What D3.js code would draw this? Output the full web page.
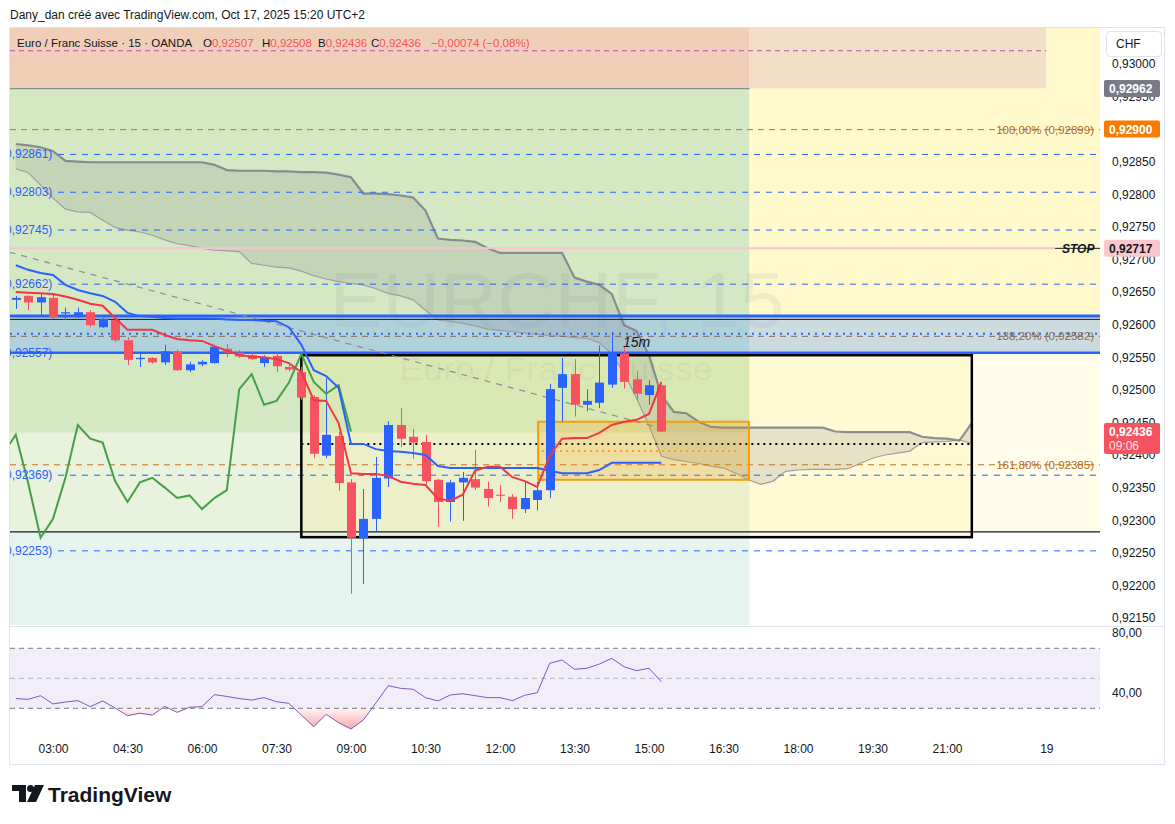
<!DOCTYPE html>
<html>
<head>
<meta charset="utf-8">
<script src="https://cdn.jsdelivr.net/npm/d3@7"></script>
<style>
  body { margin: 0; background: #fff; }
  svg { display: block; font-family: "Liberation Sans", Arial, sans-serif; }
</style>
</head>
<body>
<svg width="1175" height="824"></svg>
<script>
// 15m bars from 02:15 (index 0) to 15:15 (index 52)
var opens = [0.92638,0.92644,0.92634,0.92641,0.92617,0.92613,0.92619,0.92596,0.92607,0.92576,
  0.92547,0.92549,0.92542,0.92559,0.92530,0.92539,0.92541,0.92563,0.92557,0.92553,
  0.92541,0.92552,0.92535,0.92527,0.92489,0.92399,0.92429,0.92358,0.92272,0.92302,
  0.92364,0.92446,0.92428,0.92420,0.92362,0.92328,0.92358,0.92363,0.92348,0.92339,
  0.92336,0.92317,0.92331,0.92346,0.92503,0.92524,0.92477,0.92480,0.92508,0.92555,
  0.92516,0.92492,0.92507];
var highs = [0.92644,0.92645,0.92647,0.92647,0.92626,0.92626,0.92622,0.92610,0.92610,0.92581,
  0.92555,0.92550,0.92569,0.92562,0.92543,0.92546,0.92569,0.92570,0.92561,0.92557,
  0.92553,0.92557,0.92540,0.92535,0.92492,0.92518,0.92435,0.92363,0.92348,0.92397,
  0.92452,0.92472,0.92440,0.92431,0.92363,0.92362,0.92374,0.92408,0.92359,0.92354,
  0.92340,0.92359,0.92359,0.92509,0.92549,0.92547,0.92501,0.92568,0.92589,0.92567,
  0.92529,0.92515,0.92508];
var lows = [0.92624,0.92622,0.92615,0.92609,0.92607,0.92610,0.92596,0.92595,0.92573,0.92538,
  0.92535,0.92540,0.92538,0.92529,0.92527,0.92536,0.92540,0.92550,0.92549,0.92546,
  0.92535,0.92527,0.92528,0.92484,0.92395,0.92395,0.92345,0.92187,0.92202,0.92282,
  0.92351,0.92412,0.92394,0.92355,0.92290,0.92298,0.92299,0.92346,0.92321,0.92328,
  0.92302,0.92311,0.92315,0.92334,0.92451,0.92459,0.92467,0.92472,0.92503,0.92502,
  0.92483,0.92477,0.92436];
var closes = [0.92641,0.92634,0.92642,0.92611,0.92619,0.92619,0.92599,0.92609,0.92576,0.92546,
  0.92549,0.92542,0.92559,0.92530,0.92539,0.92543,0.92566,0.92557,0.92551,0.92547,
  0.92550,0.92536,0.92531,0.92488,0.92402,0.92431,0.92357,0.92273,0.92302,0.92365,
  0.92446,0.92425,0.92419,0.92360,0.92328,0.92358,0.92365,0.92350,0.92334,0.92338,
  0.92317,0.92334,0.92346,0.92501,0.92524,0.92477,0.92483,0.92511,0.92555,0.92512,
  0.92494,0.92507,0.92436];

// ichimoku lines
var tenkan = [0.92650,0.92649,0.92648,0.92647,0.92643,0.92638,0.92632,0.92629,0.92610,0.92592,
  0.92592,0.92592,0.92584,0.92578,0.92576,0.92575,0.92567,0.92560,0.92553,0.92551,
  0.92550,0.92547,0.92541,0.92527,0.92484,0.92483,0.92449,0.92372,0.92371,0.92371,
  0.92368,0.92359,0.92356,0.92354,0.92333,0.92330,0.92339,0.92376,0.92382,0.92382,
  0.92366,0.92360,0.92351,0.92399,0.92425,0.92426,0.92426,0.92434,0.92446,0.92451,
  0.92454,0.92463,0.92512];
var kijun = [0.92691,0.92684,0.92679,0.92676,0.92661,0.92653,0.92648,0.92644,0.92635,0.92618,
  0.92613,0.92612,0.92610,0.92609,0.92609,0.92609,0.92609,0.92608,0.92607,0.92607,
  0.92606,0.92605,0.92596,0.92569,0.92530,0.92521,0.92503,0.92417,0.92417,0.92409,
  0.92406,0.92405,0.92403,0.92400,0.92383,0.92380,0.92380,0.92380,0.92380,0.92380,
  0.92380,0.92380,0.92380,0.92376,0.92372,0.92372,0.92372,0.92377,0.92388,0.92388,
  0.92388,0.92388,0.92388];
// cloud, index 0..77 (runs 25 bars past the last candle)
var spanA = [0.92839,0.92833,0.92814,0.92794,0.92777,0.92773,0.92772,0.92760,0.92749,0.92745,
  0.92742,0.92737,0.92730,0.92724,0.92721,0.92717,0.92714,0.92713,0.92712,0.92694,
  0.92691,0.92688,0.92687,0.92682,0.92675,0.92670,0.92666,0.92663,0.92661,0.92655,
  0.92648,0.92644,0.92638,0.92622,0.92607,0.92605,0.92602,0.92598,0.92593,0.92591,
  0.92589,0.92587,0.92585,0.92583,0.92582,0.92580,0.92579,0.92572,0.92555,0.92525,
  0.92487,0.92445,0.92398,0.92393,0.92390,0.92387,0.92383,0.92380,0.92372,0.92362,
  0.92355,0.92360,0.92375,0.92377,0.92378,0.92378,0.92378,0.92379,0.92387,0.92395,
  0.92400,0.92403,0.92406,0.92419,0.92420,0.92421,0.92423,0.92418];
var spanB = [0.92877,0.92875,0.92872,0.92866,0.92851,0.92850,0.92849,0.92849,0.92849,0.92849,
  0.92849,0.92849,0.92849,0.92849,0.92849,0.92849,0.92845,0.92837,0.92836,0.92836,
  0.92836,0.92835,0.92835,0.92834,0.92834,0.92833,0.92830,0.92826,0.92801,0.92801,
  0.92800,0.92798,0.92795,0.92775,0.92732,0.92730,0.92729,0.92727,0.92717,0.92710,
  0.92710,0.92710,0.92710,0.92710,0.92710,0.92672,0.92666,0.92661,0.92647,0.92599,
  0.92590,0.92553,0.92492,0.92466,0.92464,0.92451,0.92443,0.92442,0.92442,0.92442,
  0.92442,0.92442,0.92442,0.92442,0.92442,0.92442,0.92436,0.92435,0.92435,0.92435,
  0.92435,0.92435,0.92435,0.92428,0.92426,0.92425,0.92422,0.92449];
var chikouShift = 25;

var rsi = [36.5,36.0,38.4,32.9,34.2,35.1,31.1,34.9,30.2,25.1,
  26.7,25.5,31.3,27.3,30.7,31.1,39.1,37.9,36.5,35.5,
  37.1,34.4,33.3,25.5,17.7,26.0,20.4,16.2,22.2,33.5,
  45.1,43.3,42.7,37.1,34.9,38.9,39.7,38.4,37.1,37.1,
  35.1,38.7,40.4,60.0,62.2,56.0,56.7,59.5,63.3,57.7,
  55.1,56.7,47.7];

var tickIdx = [3,9,15,21,27,33,39,45,51,57,63,69,75,83];
var tickLabels = ['03:00','04:30','06:00','07:30','09:00','10:30','12:00','13:30','15:00','16:30','18:00','19:30','21:00','19'];
// 0,92900 sits fully under the orange price label, so it is left out
var priceTicks = [0.93,0.9295,0.9285,0.928,0.9275,0.927,0.9265,0.926,0.9255,0.925,0.9245,0.924,0.9235,0.923,0.9225,0.922,0.9215];
var blueLevels = [0.92861,0.92803,0.92745,0.92662,0.92557,0.92369,0.92253];
var fibLevels = [0.92899,0.92582,0.92385];
var fibTexts = ['100,00% (0,92899)','138,20% (0,92582)','161,80% (0,92385)'];
var stopLevel = 0.92717;

var svg = d3.select('svg'),
    pane = {left: 10, right: 1100, top: 28, bottom: 625},
    x = d3.scaleLinear().domain([3, 51]).range([53, 649]),
    y = d3.scaleLinear().domain([0.9215, 0.93]).range([618, 63.8]),
    yr = d3.scaleLinear().domain([30, 70]).range([708.3, 648.3]),
    fmt = function(v) { return v.toFixed(5).replace('.', ','); };

var defs = svg.append('defs');
defs.append('clipPath').attr('id', 'clipMain').append('rect')
    .attr('x', pane.left).attr('y', pane.top)
    .attr('width', pane.right - pane.left).attr('height', pane.bottom - pane.top);
defs.append('clipPath').attr('id', 'clipRsi').append('rect')
    .attr('x', pane.left).attr('y', yr(30))
    .attr('width', pane.right - pane.left).attr('height', 40);
var grad = defs.append('linearGradient').attr('id', 'osGrad')
    .attr('gradientUnits', 'userSpaceOnUse')
    .attr('x1', 0).attr('x2', 0).attr('y1', yr(30)).attr('y2', yr(0));
grad.append('stop').attr('offset', 0).attr('stop-color', '#f23645').attr('stop-opacity', 0.05);
grad.append('stop').attr('offset', 1).attr('stop-color', '#f23645').attr('stop-opacity', 0.9);

// title + frame
svg.append('text').attr('x', 10).attr('y', 19).attr('font-size', 12).attr('fill', '#131722')
    .text('Dany_dan créé avec TradingView.com, Oct 17, 2025 15:20 UTC+2');
svg.append('rect').attr('x', 9.5).attr('y', 27.5).attr('width', 1155).attr('height', 737)
    .attr('fill', 'none').attr('stroke', '#e0e3eb');

var g = svg.append('g').attr('clip-path', 'url(#clipMain)');

// position tool zones
var split = 59.1, topEnd = 83, posTop = 0.92962, posMid = 0.92434, posLow = 0.92282;
function zone(x0, x1, p0, p1, color) {
  var y0 = p0 === null ? pane.top : y(p0),
      y1 = p1 === null ? pane.bottom : y(p1);
  g.append('rect').attr('x', x0).attr('y', y0)
      .attr('width', x1 - x0).attr('height', y1 - y0)
      .attr('fill', color);
}
zone(pane.left, x(split), null, posTop, '#f0cfb8');
zone(x(split), x(topEnd), null, posTop, '#f2dfc5');
zone(x(topEnd), pane.right, null, posTop, '#fff9cc');
zone(pane.left, x(split), posTop, posMid, '#d4e8c3');
zone(pane.left, x(split), posMid, posLow, '#e9f2dd');
zone(pane.left, x(split), posLow, null, '#e6f4ef');
zone(x(split), pane.right, posTop, 0.92557, '#fff9cc');
zone(x(split), pane.right, 0.92557, posLow, '#fffce9');
zone(x(split), pane.right, posLow, null, '#ffffff');

// watermark
g.append('text').attr('x', 557).attr('y', 327).attr('text-anchor', 'middle')
    .attr('font-size', 78).attr('fill', '#787b86').attr('fill-opacity', 0.1)
    .attr('textLength', 455).attr('lengthAdjust', 'spacingAndGlyphs').text('EURCHF, 15');
g.append('text').attr('x', 556).attr('y', 380).attr('text-anchor', 'middle')
    .attr('font-size', 32).attr('fill', '#787b86').attr('fill-opacity', 0.1)
    .attr('textLength', 313).attr('lengthAdjust', 'spacingAndGlyphs').text('Euro / Franc Suisse');

// blue band
g.append('rect').attr('x', pane.left).attr('y', y(0.92613))
    .attr('width', pane.right - pane.left).attr('height', y(0.92557) - y(0.92613))
    .attr('fill', 'rgb(120,170,255)').attr('fill-opacity', 0.38);

// black box fill
g.append('rect').attr('x', x(23)).attr('y', y(0.92553))
    .attr('width', x(77) - x(23)).attr('height', y(0.92274) - y(0.92553))
    .attr('fill', 'rgb(255,228,80)').attr('fill-opacity', 0.13);

// cloud
var cIdx = d3.range(spanA.length);
g.append('path').datum(cIdx)
    .attr('d', d3.area().x(function(i) { return x(i); })
      .y0(function(i) { return y(spanA[i]); }).y1(function(i) { return y(spanB[i]); }))
    .attr('fill', '#787b86').attr('fill-opacity', 0.18);
g.append('path').datum(cIdx)
    .attr('d', d3.line().x(function(i) { return x(i); }).y(function(i) { return y(spanA[i]); }))
    .attr('fill', 'none').attr('stroke', '#9e9ea4').attr('stroke-width', 1.2);
g.append('path').datum(cIdx)
    .attr('d', d3.line().x(function(i) { return x(i); }).y(function(i) { return y(spanB[i]); }))
    .attr('fill', 'none').attr('stroke', '#7b7e86').attr('stroke-width', 2.2).attr('stroke-opacity', 0.85);

function hline(p, x0, x1, color, w, dash) {
  return g.append('line').attr('x1', x0).attr('x2', x1).attr('y1', y(p)).attr('y2', y(p))
      .attr('stroke', color).attr('stroke-width', w).attr('stroke-dasharray', dash || null);
}

// drawings
hline(0.93020, pane.left, x(topEnd), '#b44cb0', 1, '5,4');
hline(posTop, pane.left, x(split), '#8a8d94', 1.2);
hline(stopLevel, pane.left, 1055, '#f8c5ce', 2);
hline(stopLevel, 1055, pane.right, '#131722', 1);
blueLevels.forEach(function(p) { hline(p, 58, pane.right, '#2962ff', 1, '6,6'); });
hline(0.92613, pane.left, pane.right, '#2962ff', 3);
hline(0.92557, pane.left, pane.right, '#2962ff', 2.5);
hline(0.92608, pane.left, pane.right, '#131722', 1);
hline(0.92586, pane.left, pane.right, '#2962ff', 2, '2,5');
hline(posLow, pane.left, pane.right, '#131722', 1.2);
fibLevels.forEach(function(p, k) {
  hline(p, pane.left, pane.right, k === 1 ? '#7d6b60' : '#c27226', 1, '6,5');
});

// black box + dotted close line
g.append('rect').attr('x', x(23)).attr('y', y(0.92553))
    .attr('width', x(77) - x(23)).attr('height', y(0.92274) - y(0.92553))
    .attr('fill', 'none').attr('stroke', '#000').attr('stroke-width', 2.5);
hline(0.92417, x(23), x(77), '#000', 2, '2,4');

// orange box
g.append('rect').attr('x', x(42.07)).attr('y', y(0.92451))
    .attr('width', x(59.05) - x(42.07)).attr('height', y(0.92362) - y(0.92451))
    .attr('fill', 'rgb(255,152,0)').attr('fill-opacity', 0.2)
    .attr('stroke', '#f59d0d').attr('stroke-width', 2);
hline(0.92406, x(42.07) + 4, x(58), '#f7a21b', 2, '2,4');

// dashed trend line
g.append('line').attr('x1', x(-0.5)).attr('y1', y(0.92711)).attr('x2', x(52)).attr('y2', y(0.92441))
    .attr('stroke', '#8a8d94').attr('stroke-width', 1.2).attr('stroke-dasharray', '6,6');

// candles
var bars = d3.range(closes.length);
var col = function(i) { return closes[i] >= opens[i] ? '#2962ff' : '#f7525f'; };
g.selectAll('.wick').data(bars).enter().append('line')
    .attr('class', 'wick')
    .attr('x1', function(i) { return Math.round(x(i)) + 0.5; })
    .attr('x2', function(i) { return Math.round(x(i)) + 0.5; })
    .attr('y1', function(i) { return y(highs[i]); })
    .attr('y2', function(i) { return y(lows[i]); })
    .attr('stroke', col).attr('stroke-width', 1);
g.selectAll('.body').data(bars).enter().append('rect')
    .attr('class', 'body')
    .attr('x', function(i) { return Math.round(x(i)) - 4; })
    .attr('width', 9)
    .attr('y', function(i) { return y(Math.max(opens[i], closes[i])); })
    .attr('height', function(i) { return Math.max(1, Math.abs(y(opens[i]) - y(closes[i]))); })
    .attr('fill', col);

// lagging span (closes displaced back)
var chIdx = d3.range(-1, closes.length - chikouShift);
g.append('path').datum(chIdx)
    .attr('d', d3.line().x(function(i) { return x(i); }).y(function(i) { return y(closes[i + chikouShift]); }))
    .attr('fill', 'none').attr('stroke', '#43a047').attr('stroke-width', 2);
g.append('path').datum(bars)
    .attr('d', d3.line().x(function(i) { return x(i); }).y(function(i) { return y(kijun[i]); }))
    .attr('fill', 'none').attr('stroke', '#2962ff').attr('stroke-width', 2);
g.append('path').datum(bars)
    .attr('d', d3.line().x(function(i) { return x(i); }).y(function(i) { return y(tenkan[i]); }))
    .attr('fill', 'none').attr('stroke', '#f23645').attr('stroke-width', 2);

// texts on chart
blueLevels.forEach(function(p) {
  g.append('text').attr('x', 1).attr('y', y(p) + 4).attr('font-size', 12).attr('fill', '#2962ff')
      .text('(' + fmt(p) + ')');
});
fibLevels.forEach(function(p, k) {
  g.append('text').attr('x', 1094).attr('y', y(p) + 4).attr('text-anchor', 'end')
      .attr('font-size', 11.5).attr('fill', k === 1 ? '#8a6c58' : '#b36a24').text(fibTexts[k]);
});
g.append('text').attr('x', 1062).attr('y', y(stopLevel) + 4.5).attr('font-size', 12)
    .attr('font-weight', 'bold').attr('font-style', 'italic').attr('fill', '#131722').text('STOP');
g.append('text').attr('x', 623).attr('y', 347).attr('font-size', 14)
    .attr('font-style', 'italic').attr('fill', '#131722').text('15m');

// legend
var lg = svg.append('text').attr('y', 47).attr('font-size', 11.5);
lg.append('tspan').attr('x', 17).attr('fill', '#131722').text('Euro / Franc Suisse · 15 · OANDA');
[['O', '0,92507', 203], ['H', '0,92508', 262], ['B', '0,92436', 318], ['C', '0,92436', 371]].forEach(function(d) {
  lg.append('tspan').attr('x', d[2]).attr('fill', '#131722').text(d[0]);
  lg.append('tspan').attr('fill', '#f7525f').text(d[1]);
});
lg.append('tspan').attr('x', 431).attr('fill', '#f7525f').text('−0,00074 (−0,08%)');

// price axis
var ax = svg.append('g').attr('transform', 'translate(1106,0)')
    .call(d3.axisRight(y).tickValues(priceTicks).tickFormat(fmt).tickSize(0).tickPadding(6));
ax.select('.domain').remove();
ax.selectAll('text').attr('font-size', 12).attr('fill', '#131722').attr('font-family', null);

function priceLabel(p, bg, fg, txt2) {
  var h = txt2 ? 31 : 17, yy = y(p) - 8.5;
  svg.append('rect').attr('x', 1104).attr('y', yy).attr('width', 56).attr('height', h)
      .attr('rx', 2).attr('fill', bg);
  svg.append('text').attr('x', 1109).attr('y', yy + 13).attr('font-size', 12).attr('fill', fg)
      .attr('font-weight', 'bold').text(fmt(p));
  if (txt2) svg.append('text').attr('x', 1109).attr('y', yy + 27).attr('font-size', 12)
      .attr('fill', fg).attr('fill-opacity', 0.85).text(txt2);
}
priceLabel(posTop, '#787b86', '#fff');
priceLabel(0.929, '#f57c00', '#fff');
priceLabel(stopLevel, '#f8c8ce', '#131722');
priceLabel(closes[closes.length - 1], '#f7525f', '#fff', '09:06');

svg.append('rect').attr('x', 1106.5).attr('y', 31.5).attr('width', 55).attr('height', 25)
    .attr('rx', 4).attr('fill', '#fff').attr('stroke', '#e0e3eb');
svg.append('text').attr('x', 1116).attr('y', 48).attr('font-size', 12).attr('fill', '#131722').text('CHF');

// pane separator
svg.append('line').attr('x1', pane.left).attr('x2', 1165).attr('y1', 626.5).attr('y2', 626.5)
    .attr('stroke', '#e0e3eb');

// RSI pane
var r = svg.append('g');
r.append('rect').attr('x', pane.left).attr('y', yr(70)).attr('width', pane.right - pane.left)
    .attr('height', yr(30) - yr(70)).attr('fill', '#7e57c2').attr('fill-opacity', 0.1);
[70, 50, 30].forEach(function(v) {
  r.append('line').attr('x1', pane.left).attr('x2', pane.right).attr('y1', yr(v)).attr('y2', yr(v))
      .attr('stroke', '#787b86').attr('stroke-opacity', v === 50 ? 0.5 : 1).attr('stroke-dasharray', '5,4');
});
r.append('path').datum(bars).attr('clip-path', 'url(#clipRsi)')
    .attr('d', d3.area().x(function(i) { return x(i); }).y0(yr(30)).y1(function(i) { return yr(rsi[i]); }))
    .attr('fill', 'url(#osGrad)');
r.append('path').datum(bars)
    .attr('d', d3.line().x(function(i) { return x(i); }).y(function(i) { return yr(rsi[i]); }))
    .attr('fill', 'none').attr('stroke', '#7e57c2').attr('stroke-width', 1);
[80, 40].forEach(function(v) {
  r.append('text').attr('x', 1112).attr('y', yr(v) + 4).attr('font-size', 12).attr('fill', '#131722')
      .text(v.toFixed(2).replace('.', ','));
});

// time axis
var tx = svg.append('g').attr('transform', 'translate(0,741)')
    .call(d3.axisBottom(x).tickValues(tickIdx).tickFormat(function(d, k) { return tickLabels[k]; })
      .tickSize(0).tickPadding(3));
tx.select('.domain').remove();
tx.selectAll('text').attr('font-size', 12).attr('fill', '#131722').attr('font-family', null);

// logo
var logo = svg.append('g').attr('fill', '#131722');
logo.append('path').attr('d', 'M12,785 H26 V802 H19 V791 H12 Z');
logo.append('circle').attr('cx', 30.5).attr('cy', 788.5).attr('r', 3.5);
logo.append('path').attr('d', 'M35,785 H44 L36,802 H27 Z');
logo.append('text').attr('x', 48).attr('y', 802).attr('font-size', 21).attr('font-weight', 'bold')
    .text('TradingView');
</script>
</body>
</html>
